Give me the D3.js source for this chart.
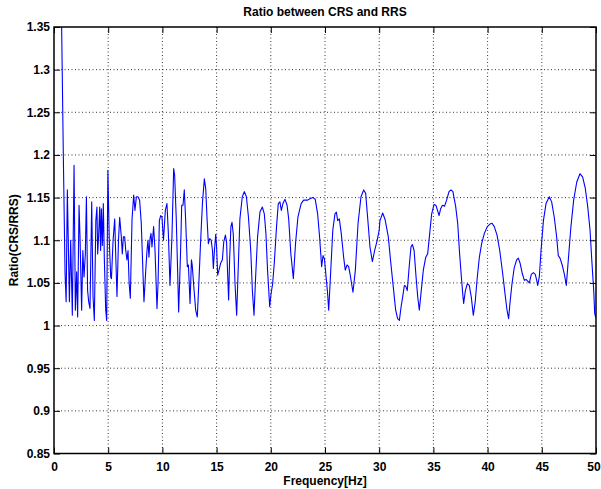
<!DOCTYPE html>
<html>
<head>
<meta charset="utf-8">
<script src="https://d3js.org/d3.v7.min.js"></script>
<style>
    body { margin: 0; background: #fff; }
    text { font-family: "Liberation Sans", Arial, sans-serif; }
</style>
</head>
<body>
<div id="chart-area"></div>
<script>
// values
var freq = [0.55, 0.86, 1.02, 1.12, 1.23, 1.42, 1.54, 1.69, 1.85, 1.97, 2.09, 2.18, 2.31, 2.40, 2.55, 2.66, 2.77, 2.89, 2.99,
    3.10, 3.20, 3.32, 3.48, 3.60, 3.72, 3.86, 3.96, 4.03, 4.12, 4.22, 4.30, 4.37, 4.46, 4.55, 4.64, 4.77, 4.86, 4.97,
    5.10, 5.23, 5.30, 5.45, 5.60, 5.70, 5.81, 5.95, 6.06, 6.21, 6.30, 6.40, 6.52, 6.62, 6.73, 6.83, 6.93, 7.04, 7.20,
    7.35, 7.47, 7.60, 7.75, 7.90, 8.05, 8.30, 8.45, 8.58, 8.67, 8.76, 8.86, 8.95, 9.04, 9.19, 9.32, 9.50, 9.60, 9.72,
    9.84, 9.96, 10.10, 10.27, 10.42, 10.55, 10.70, 10.88, 11.04, 11.13, 11.28, 11.50, 11.68, 11.78, 11.90, 12.02, 12.14,
    12.30, 12.40, 12.55, 12.68, 12.75, 12.90, 13.07, 13.22, 13.38, 13.53, 13.70, 13.87, 14.00, 14.12, 14.24, 14.36,
    14.50, 14.62, 14.70, 14.80, 14.92, 15.00, 15.10, 15.22, 15.37, 15.53, 15.66, 15.81, 15.92, 16.00, 16.11, 16.20,
    16.32, 16.42, 16.54, 16.70, 16.85, 17.00, 17.15, 17.37, 17.56, 17.75, 17.94, 18.15, 18.30, 18.45, 18.60, 18.78,
    19.00, 19.22, 19.40, 19.55, 19.70, 19.90, 20.02, 20.17, 20.32, 20.53, 20.69, 20.84, 20.97, 21.12, 21.31, 21.50,
    21.65, 21.85, 22.08, 22.28, 22.50, 22.80, 23.03, 23.40, 23.65, 23.90, 24.10, 24.32, 24.50, 24.69, 24.82, 24.95,
    25.10, 25.22, 25.34, 25.50, 25.72, 25.92, 26.05, 26.17, 26.32, 26.50, 26.72, 26.87, 27.03, 27.18, 27.33, 27.58,
    27.80, 28.05, 28.32, 28.57, 28.75, 28.95, 29.15, 29.37, 29.58, 29.80, 30.00, 30.07, 30.32, 30.55, 30.84, 31.05,
    31.30, 31.52, 31.70, 31.86, 32.02, 32.17, 32.32, 32.45, 32.59, 32.76, 32.93, 33.06, 33.22, 33.40, 33.55, 33.70,
    33.88, 34.07, 34.29, 34.47, 34.66, 34.84, 35.06, 35.23, 35.38, 35.52, 35.67, 35.83, 36.03, 36.22, 36.44, 36.62,
    36.80, 37.05, 37.24, 37.42, 37.58, 37.70, 37.79, 37.95, 38.13, 38.31, 38.50, 38.68, 38.85, 39.05, 39.24, 39.45,
    39.70, 39.97, 40.22, 40.41, 40.62, 40.87, 41.12, 41.39, 41.60, 41.79, 41.94, 42.06, 42.25, 42.46, 42.68, 42.83,
    43.00, 43.20, 43.39, 43.55, 43.70, 43.85, 44.03, 44.22, 44.40, 44.53, 44.62, 44.77, 44.93, 45.15, 45.39, 45.69,
    45.91, 46.15, 46.37, 46.52, 46.68, 46.88, 47.10, 47.26, 47.44, 47.68, 47.94, 48.22, 48.52, 48.77, 49.01, 49.23,
    49.45, 49.61, 49.79, 49.88, 49.97, 50.00];

var ratio = [1.50, 1.20, 1.061, 1.028, 1.159, 1.028, 1.100, 1.012, 1.188, 1.018, 1.063, 1.010, 1.141, 1.104, 1.018, 1.088, 1.057, 1.084, 1.151,
    1.041, 1.028, 1.020, 1.145, 1.034, 1.006, 1.123, 1.139, 1.084, 1.106, 1.139, 1.088, 1.137, 1.094, 1.143, 1.080, 1.018, 1.006, 1.182,
    1.100, 1.057, 1.055, 1.100, 1.125, 1.080, 1.034, 1.100, 1.127, 1.104, 1.084, 1.104, 1.104, 1.088, 1.077, 1.088, 1.050, 1.032, 1.125,
    1.153, 1.135, 1.151, 1.151, 1.147, 1.120, 1.028, 1.062, 1.088, 1.100, 1.080, 1.102, 1.108, 1.092, 1.116, 1.088, 1.020, 1.050, 1.123,
    1.129, 1.127, 1.100, 1.135, 1.143, 1.108, 1.047, 1.104, 1.184, 1.176, 1.125, 1.016, 1.088, 1.141, 1.141, 1.159, 1.125,
    1.069, 1.071, 1.026, 1.077, 1.071, 1.045, 1.018, 1.010, 1.055, 1.100, 1.145, 1.172, 1.160, 1.125, 1.096, 1.102,
    1.100, 1.088, 1.067, 1.088, 1.107, 1.092, 1.059, 1.065, 1.073, 1.077, 1.098, 1.106, 1.098, 1.067, 1.030, 1.077,
    1.116, 1.121, 1.107, 1.049, 1.012, 1.069, 1.125, 1.151, 1.157, 1.151, 1.127, 1.088, 1.041, 1.012, 1.057, 1.104,
    1.133, 1.139, 1.131, 1.108, 1.065, 1.022, 1.037, 1.049, 1.073, 1.116, 1.143, 1.145, 1.135, 1.143, 1.148, 1.141,
    1.125, 1.084, 1.055, 1.096, 1.127, 1.143, 1.147, 1.147, 1.149, 1.150, 1.148, 1.131, 1.104, 1.069, 1.082, 1.078,
    1.057, 1.041, 1.018, 1.057, 1.112, 1.131, 1.133, 1.123, 1.125, 1.108, 1.080, 1.065, 1.071, 1.069, 1.059, 1.039,
    1.065, 1.120, 1.151, 1.159, 1.155, 1.124, 1.092, 1.075, 1.088, 1.099, 1.112, 1.123, 1.132, 1.124, 1.104, 1.076,
    1.045, 1.018, 1.008, 1.006, 1.022, 1.034, 1.047, 1.046, 1.041, 1.068, 1.092, 1.095, 1.088, 1.057, 1.034, 1.018,
    1.041, 1.065, 1.080, 1.084, 1.108, 1.131, 1.142, 1.141, 1.135, 1.129, 1.137, 1.141, 1.140, 1.147, 1.157, 1.159,
    1.157, 1.140, 1.120, 1.084, 1.057, 1.038, 1.026, 1.041, 1.049, 1.047, 1.033, 1.012, 1.027, 1.057, 1.080, 1.096,
    1.108, 1.116, 1.119, 1.120, 1.116, 1.106, 1.088, 1.061, 1.038, 1.018, 1.008, 1.026, 1.049, 1.068, 1.077, 1.079,
    1.073, 1.061, 1.053, 1.054, 1.052, 1.050, 1.060, 1.062, 1.060, 1.053, 1.047, 1.057, 1.088, 1.123, 1.143, 1.151,
    1.145, 1.127, 1.104, 1.082, 1.079, 1.071, 1.059, 1.047, 1.076, 1.115, 1.147, 1.168, 1.178, 1.174, 1.161, 1.140,
    1.112, 1.077, 1.041, 1.014, 1.010, 1.012];

var xTicks = d3.range(0, 51, 5);
var yTicks = [0.85, 0.9, 0.95, 1, 1.05, 1.1, 1.15, 1.2, 1.25, 1.3, 1.35];

var margin = { top: 27, right: 5, bottom: 35.5, left: 54 };
var width = 601 - margin.left - margin.right;
var height = 489 - margin.top - margin.bottom;

var svg = d3.select("#chart-area").append("svg")
    .attr("width", 601)
    .attr("height", 489);

var g = svg.append("g")
    .attr("transform", "translate(" + margin.left + "," + margin.top + ")");

var x = d3.scaleLinear().domain([0, 50]).range([0, width]);
var y = d3.scaleLinear().domain([0.85, 1.35]).range([height, 0]);

// dotted grid
g.append("g").selectAll("line").data(xTicks.slice(1, -1)).enter().append("line")
    .attr("x1", d => x(d)).attr("x2", d => x(d))
    .attr("y1", 0).attr("y2", height)
    .attr("stroke", "#000").attr("stroke-width", 0.8)
    .attr("stroke-dasharray", "1,2.5");

g.append("g").selectAll("line").data(yTicks.slice(1, -1)).enter().append("line")
    .attr("y1", d => y(d)).attr("y2", d => y(d))
    .attr("x1", 0).attr("x2", width)
    .attr("stroke", "#000").attr("stroke-width", 0.8)
    .attr("stroke-dasharray", "1,2.5");

// the curve, clipped to the axes box
g.append("clipPath").attr("id", "clip")
    .append("rect").attr("width", width).attr("height", height);

var line = d3.line()
    .x((d, i) => x(freq[i]))
    .y(d => y(d));

g.append("path")
    .datum(ratio)
    .attr("clip-path", "url(#clip)")
    .attr("fill", "none")
    .attr("stroke", "#0000ff")
    .attr("stroke-width", 1.1)
    .attr("stroke-linejoin", "round")
    .attr("d", line);

// axes: inward ticks on all four sides like matlab
var xAxisCall = d3.axisBottom(x).tickValues(xTicks).tickSizeInner(-6).tickSizeOuter(0).tickPadding(9);
var yAxisCall = d3.axisLeft(y).tickValues(yTicks).tickSizeInner(-6).tickSizeOuter(0).tickPadding(4)
    .tickFormat(d3.format("~g"));

var xAxis = g.append("g").attr("class", "x axis")
    .attr("transform", "translate(0," + height + ")")
    .call(xAxisCall);
var yAxis = g.append("g").attr("class", "y axis").call(yAxisCall);

g.append("g").call(d3.axisTop(x).tickValues(xTicks).tickSizeInner(-6).tickSizeOuter(0).tickFormat(""));
g.append("g").attr("transform", "translate(" + width + ",0)")
    .call(d3.axisRight(y).tickValues(yTicks).tickSizeInner(-6).tickSizeOuter(0).tickFormat(""));

g.selectAll(".domain").remove();
g.selectAll(".tick line").attr("stroke", "#000").attr("stroke-width", 1);
g.selectAll(".tick text")
    .attr("fill", "#000")
    .style("font-size", "12px")
    .style("font-weight", "bold");

// keep the last x label inside the window
xAxis.selectAll(".tick text").filter(d => d === 50).attr("dx", -2.5);

g.append("rect")
    .attr("width", width).attr("height", height)
    .attr("fill", "none").attr("stroke", "#000").attr("stroke-width", 1.5);

// labels
svg.append("text")
    .attr("x", margin.left + width / 2).attr("y", 16)
    .attr("text-anchor", "middle")
    .style("font-size", "12px").style("font-weight", "bold")
    .text("Ratio between CRS and RRS");

svg.append("text")
    .attr("x", margin.left + width / 2).attr("y", 485)
    .attr("text-anchor", "middle")
    .style("font-size", "12px").style("font-weight", "bold")
    .text("Frequency[Hz]");

svg.append("text")
    .attr("transform", "translate(18," + (margin.top + height / 2) + ") rotate(-90)")
    .attr("text-anchor", "middle")
    .style("font-size", "12px").style("font-weight", "bold")
    .text("Ratio(CRS/RRS)");
</script>
</body>
</html>
